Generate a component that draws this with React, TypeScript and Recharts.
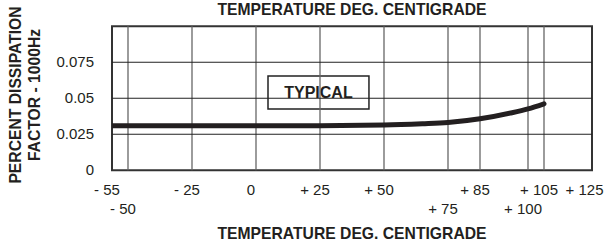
import React from 'react';
import { LineChart, Line, XAxis, YAxis, ReferenceLine, ReferenceArea } from 'recharts';

// Nonuniform temperature axis: breakpoints (temperature -> grid units)
const AXIS_TEMPS = [-55, -50, -25, 0, 25, 50, 75, 85, 100, 105, 125];
const AXIS_UNITS = [0, 1, 5, 9, 13, 17, 21, 23, 26, 27, 30];

// Tick labels (two rows)
const ROW1_TEMPS = [-55, -25, 0, 25, 50, 85, 105, 125];
const ROW2_TEMPS = [-50, 75, 100];
const Y_TICKS = [0, 0.025, 0.05, 0.075];

// Series: percent dissipation factor vs temperature
const TEMPS = [-55, -25, 0, 25, 50, 65, 75, 85, 95, 100, 105];
const DF = [0.031, 0.031, 0.031, 0.031, 0.0314, 0.0323, 0.0332, 0.0358, 0.04, 0.0427, 0.0462];

const toUnit = (t: number) => {
  for (let i = 0; i < AXIS_TEMPS.length - 1; i++) {
    const a = AXIS_TEMPS[i], b = AXIS_TEMPS[i + 1];
    if (t >= a && t <= b) {
      return AXIS_UNITS[i] + ((t - a) / (b - a)) * (AXIS_UNITS[i + 1] - AXIS_UNITS[i]);
    }
  }
  return 0;
};

const fmtTemp = (t: number) => (t < 0 ? `- ${-t}` : t === 0 ? '0' : `+ ${t}`);

const data = TEMPS.map((t, i) => ({ x: toUnit(t), df: DF[i] }));
const row1Units = ROW1_TEMPS.map(toUnit);
const row2Units = ROW2_TEMPS.map(toUnit);
const gridUnits = AXIS_TEMPS.slice(1, -1).map(toUnit);

const FONT = '"Liberation Sans", Arial, Helvetica, sans-serif';
const INK = '#231f20';
const PAGE_W = 605;

const XTick = (props: any) => {
  const { x, y, payload } = props;
  const v = payload.value;
  let idx = row1Units.findIndex((u) => Math.abs(u - v) < 1e-6);
  let dy = 25;
  let label = '';
  if (idx >= 0) label = fmtTemp(ROW1_TEMPS[idx]);
  else {
    idx = row2Units.findIndex((u) => Math.abs(u - v) < 1e-6);
    if (idx >= 0) {
      label = fmtTemp(ROW2_TEMPS[idx]);
      dy = 44;
    }
  }
  const estW = label.length * 8.3;
  const cx = x - 5;
  const nearEdge = cx + estW / 2 > PAGE_W - 1;
  return (
    <text
      x={nearEdge ? PAGE_W - 1.5 : cx}
      y={y + dy}
      textAnchor={nearEdge ? 'end' : 'middle'}
      fontFamily={FONT}
      fontSize={15}
      fill={INK}
    >
      {label}
    </text>
  );
};

const YTick = (props: any) => {
  const { x, y, payload } = props;
  return (
    <text x={x - 18} y={y + 5} textAnchor="end" fontFamily={FONT} fontSize={15} fill={INK}>
      {String(payload.value)}
    </text>
  );
};

const BoxLabel = (props: any) => {
  const vb = props.viewBox || {};
  const cx = vb.x + vb.width / 2;
  const cy = vb.y + vb.height / 2;
  return (
    <text x={cx} y={cy + 6} textAnchor="middle" fontFamily={FONT} fontSize={16} fontWeight="bold" fill={INK}>
      TYPICAL
    </text>
  );
};

export default function App() {
  return (
    <div style={{ position: 'absolute', left: 0, top: 0, width: 605, height: 244, background: '#fff' }}>
      <LineChart
        width={605}
        height={244}
        data={data}
        margin={{ top: 26.3, right: 13, left: 0, bottom: 0 }}
      >
        <XAxis
          dataKey="x"
          type="number"
          domain={[0, 30]}
          ticks={[...row1Units, ...row2Units].sort((a, b) => a - b)}
          tick={<XTick />}
          tickLine={false}
          axisLine={false}
          tickSize={0}
          tickMargin={0}
          height={73.7}
          interval={0}
          allowDataOverflow
        />
        <YAxis
          type="number"
          domain={[0, 0.1]}
          ticks={Y_TICKS}
          tick={<YTick />}
          tickLine={false}
          axisLine={false}
          tickSize={0}
          tickMargin={0}
          width={112}
          interval={0}
          allowDataOverflow
        />
        {gridUnits.map((u) => (
          <ReferenceLine key={'v' + u} x={u} stroke="#666" strokeWidth={1.3} />
        ))}
        {Y_TICKS.slice(1).map((v) => (
          <ReferenceLine key={'h' + v} y={v} stroke="#222" strokeWidth={1.1} />
        ))}
        <ReferenceArea x1={0} x2={30} y1={0} y2={0.1} fill="none" stroke="#333" strokeWidth={2} fillOpacity={0} />
        <ReferenceArea
          x1={9.75}
          x2={16.06}
          y1={0.0426}
          y2={0.0655}
          fill="#fff"
          fillOpacity={1}
          stroke="#222"
          strokeWidth={1.5}
          label={<BoxLabel />}
        />
        <Line
          type="monotone"
          dataKey="df"
          stroke={INK}
          strokeWidth={5}
          dot={false}
          activeDot={false}
          isAnimationActive={false}
          strokeLinecap="round"
        />
      </LineChart>
      <svg
        width={605}
        height={244}
        style={{ position: 'absolute', left: 0, top: 0, pointerEvents: 'none' }}
      >
        <text x={352} y={14.5} textAnchor="middle" fontFamily={FONT} fontSize={15.7} fontWeight="bold" fill={INK}>
          TEMPERATURE DEG. CENTIGRADE
        </text>
        <text x={352} y={239} textAnchor="middle" fontFamily={FONT} fontSize={15.7} fontWeight="bold" fill={INK}>
          TEMPERATURE DEG. CENTIGRADE
        </text>
        <text
          transform="translate(21,95) rotate(-90)"
          textAnchor="middle"
          fontFamily={FONT}
          fontSize={15.7}
          fontWeight="bold"
          fill={INK}
        >
          PERCENT DISSIPATION
        </text>
        <text
          transform="translate(40,95) rotate(-90)"
          textAnchor="middle"
          fontFamily={FONT}
          fontSize={15.7}
          fontWeight="bold"
          fill={INK}
        >
          FACTOR - 1000Hz
        </text>
      </svg>
    </div>
  );
}
